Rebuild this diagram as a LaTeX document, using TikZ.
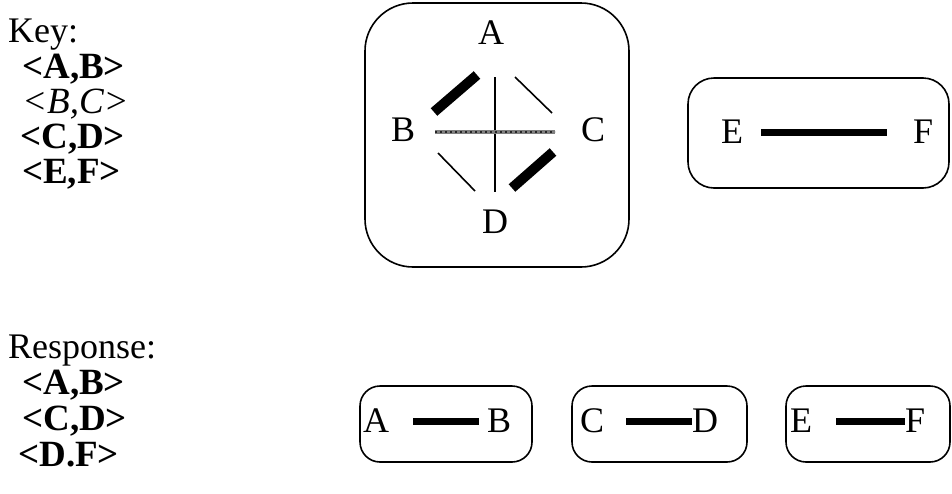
\documentclass[tikz,border=0pt]{standalone}
\usepackage{fontspec}
\setmainfont{Liberation Serif}
\begin{document}
\begin{tikzpicture}[x=1pt,y=-1pt,
  txt/.style={inner sep=0pt,font=\fontsize{36}{42}\selectfont},
  lbl/.style={txt,anchor=base west},
  item/.style={inner sep=0pt,anchor=base west,font=\fontsize{37}{42}\selectfont},
  rbox/.style={draw,line width=1.6pt,rounded corners=#1},
  thickedge/.style={line width=10pt},
  thinedge/.style={line width=1.6pt},
  greyedge/.style={line width=4.5pt,draw=black!50},
  greydots/.style={line width=2pt,draw=black!85,dash pattern=on 2pt off 3pt},
  bar/.style={line width=7pt}]
\useasboundingbox (0,0) rectangle (952,493);
% key list
\node[lbl] (key) at (8,42) {Key:};
\node[item] (k1) at (22,78) {\bfseries <A,B>};
\node[item] (k2) at (22,113) {\itshape <B,C>};
\node[item] (k3) at (20,148) {\bfseries <C,D>};
\node[item] (k4) at (22,183) {\bfseries <E,F>};
% response list
\node[lbl] (resp) at (8,358) {Response:};
\node[item] (r1) at (22,394) {\bfseries <A,B>};
\node[item] (r2) at (22,430) {\bfseries <C,D>};
\node[item] (r3) at (18,466) {\bfseries <D.F>};
% big box
\draw[rbox=48pt] (365,3) rectangle (629,267);
\node[txt] (A) at (491,33) {A};
\node[txt] (B) at (403,130) {B};
\node[txt] (C) at (593,130) {C};
\node[txt] (D) at (495,222) {D};
\coordinate (ab1) at (434,112);
\coordinate (ab2) at (477,75);
\coordinate (ac1) at (515,77);
\coordinate (ac2) at (552,113);
\coordinate (ad1) at (495,77);
\coordinate (ad2) at (495,192);
\coordinate (bc1) at (435,132);
\coordinate (bc2) at (555,132);
\coordinate (bd1) at (438,153);
\coordinate (bd2) at (475,191);
\coordinate (cd1) at (512,188);
\coordinate (cd2) at (553,152);
\draw[thickedge] (ab1) -- (ab2);
\draw[thinedge] (ac1) -- (ac2);
\draw[thinedge] (ad1) -- (ad2);
\draw[greyedge] (bc1) -- (bc2);
\draw[greydots] (bc1) -- (bc2);
\draw[thinedge] (bd1) -- (bd2);
\draw[thickedge] (cd1) -- (cd2);
% E-F box
\draw[rbox=26pt] (688,78) rectangle (949,188);
\node[txt] (E) at (732,132) {E};
\node[txt] (F) at (923,132) {F};
\draw[bar] ([xshift=18pt]E.east) -- ([xshift=-26pt]F.west);
% response boxes
\draw[rbox=20pt] (360,386) rectangle (532,462);
\node[txt,anchor=west] (rA) at (363,421) {A};
\node[txt,anchor=west] (rB) at (487,421) {B};
\draw[bar] ([xshift=24pt]rA.east) -- ([xshift=-8pt]rB.west);
\draw[rbox=20pt] (572,386) rectangle (747,462);
\node[txt,anchor=west] (rC) at (580,421) {C};
\node[txt,anchor=west] (rD) at (692,421) {D};
\draw[bar] ([xshift=22pt]rC.east) -- (rD.west);
\draw[rbox=20pt] (786,386) rectangle (950,462);
\node[txt,anchor=west] (rE) at (790,421) {E};
\node[txt,anchor=west] (rF) at (905,421) {F};
\draw[bar] ([xshift=24pt]rE.east) -- (rF.west);
\end{tikzpicture}
\end{document}
